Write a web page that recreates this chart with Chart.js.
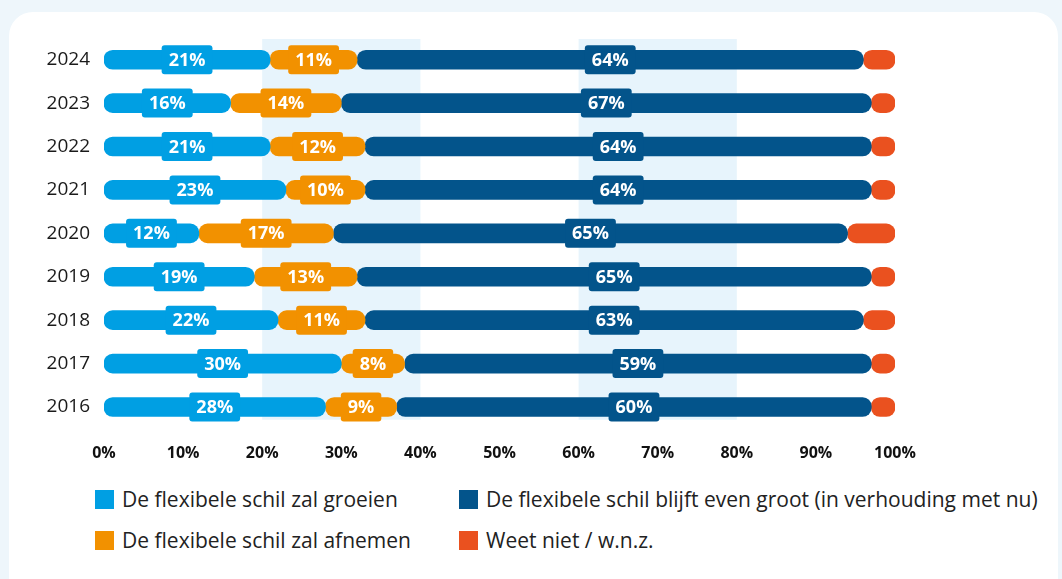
<!DOCTYPE html>
<html>
<head>
<meta charset="utf-8">
<script src="https://cdn.jsdelivr.net/npm/chart.js@4.4.0/dist/chart.umd.min.js"></script>
<style>
  html, body { margin: 0; padding: 0; }
  body { width: 1062px; height: 579px; background: #eef6fb; position: relative; overflow: hidden; font-family: "Open Sans", sans-serif; }
  .card { position: absolute; left: 9px; top: 12px; width: 1049px; height: 600px; background: #fff; border-radius: 24px; }
  #chartBox { position: absolute; left: 0; top: 0; width: 1062px; height: 470px; }
  .legend-item { position: absolute; display: flex; align-items: center; font-size: 21px; color: #222; white-space: nowrap; }
  .legend-item span.sw { display: inline-block; width: 19px; height: 19px; margin-right: 8px; }
</style>
</head>
<body>
<div class="card"></div>
<div id="chartBox"><canvas id="chart"></canvas></div>
<div id="legend"></div>
<script>
const years = ['2024', '2023', '2022', '2021', '2020', '2019', '2018', '2017', '2016'];
const groeien = [21, 16, 21, 23, 12, 19, 22, 30, 28];
const afnemen = [11, 14, 12, 10, 17, 13, 11, 8, 9];
const blijft = [64, 67, 64, 64, 65, 65, 63, 59, 60];
const weetNiet = [4, 3, 3, 3, 6, 3, 4, 3, 3];
const xTicks = [0, 10, 20, 30, 40, 50, 60, 70, 80, 90, 100];
const bands = [[20, 40], [60, 80]];

const seriesLabels = [
    'De flexibele schil zal groeien',
    'De flexibele schil zal afnemen',
    'De flexibele schil blijft even groot (in verhouding met nu)',
    'Weet niet / w.n.z.'
];
const colours = ['#009fe3', '#f29100', '#03548b', '#ea511f'];

// light background bands behind the bars
const bandPlugin = {
    id: 'bands',
    beforeDatasetsDraw(chart) {
        const ctx = chart.ctx;
        const x = chart.scales.x;
        const area = chart.chartArea;
        ctx.save();
        ctx.fillStyle = '#e7f4fc';
        bands.forEach(b => {
            const x1 = x.getPixelForValue(b[0]);
            const x2 = x.getPixelForValue(b[1]);
            ctx.fillRect(x1, area.top + 1, x2 - x1, area.bottom - area.top - 10);
        });
        ctx.restore();
    }
};

// value labels in little boxes on the first three series
const labelPlugin = {
    id: 'valueBoxes',
    afterDatasetsDraw(chart) {
        const ctx = chart.ctx;
        ctx.save();
        ctx.font = 'bold 18px "Open Sans"';
        ctx.textAlign = 'center';
        ctx.textBaseline = 'middle';
        for (let d = 0; d < 3; d++) {
            const meta = chart.getDatasetMeta(d);
            meta.data.forEach((bar, i) => {
                const text = chart.data.datasets[d].data[i] + '%';
                const cx = (bar.x + bar.base) / 2;
                const w = ctx.measureText(text).width + 14;
                const h = 29;
                ctx.fillStyle = colours[d];
                ctx.beginPath();
                ctx.roundRect(cx - w / 2, bar.y - h / 2, w, h, 3);
                ctx.fill();
                ctx.fillStyle = '#ffffff';
                ctx.fillText(text, cx, bar.y + 1);
            });
        }
        ctx.restore();
    }
};

const allSeries = [groeien, afnemen, blijft, weetNiet];
const radius = { topLeft: 9, topRight: 9, bottomLeft: 9, bottomRight: 9 };

new Chart(document.getElementById('chart'), {
    type: 'bar',
    data: {
        labels: years,
        datasets: allSeries.map((s, i) => ({
            label: seriesLabels[i],
            data: s,
            backgroundColor: colours[i],
            borderWidth: 0,
            borderRadius: radius,
            borderSkipped: false,
            barThickness: 19
        }))
    },
    options: {
        indexAxis: 'y',
        responsive: true,
        maintainAspectRatio: false,
        animation: false,
        layout: { padding: { top: 38, right: 167, bottom: 0, left: 0 } },
        plugins: {
            legend: { display: false },
            tooltip: { enabled: false }
        },
        scales: {
            x: {
                stacked: true,
                min: 0,
                max: 100,
                afterBuildTicks(scale) {
                    scale.ticks = xTicks.map(v => ({ value: v }));
                },
                afterFit(scale) { scale.height = 41.3; },
                grid: { display: false, drawTicks: false },
                border: { display: false },
                ticks: {
                    padding: 15,
                    color: '#111',
                    font: { family: 'Open Sans', size: 16, weight: 'bold' },
                    callback: v => v + '%'
                }
            },
            y: {
                stacked: true,
                afterFit(scale) { scale.width = 104; },
                grid: { display: false, drawTicks: false },
                border: { display: false },
                ticks: {
                    padding: 14,
                    color: '#1a1a1a',
                    font: { family: 'Open Sans', size: 19 }
                }
            }
        }
    },
    plugins: [bandPlugin, labelPlugin]
});

// legend in two columns
const legendPos = [
    { x: 95, y: 490 },
    { x: 95, y: 531 },
    { x: 459, y: 490 },
    { x: 459, y: 531 }
];
const legend = document.getElementById('legend');
seriesLabels.forEach((label, i) => {
    const item = document.createElement('div');
    item.className = 'legend-item';
    item.style.left = legendPos[i].x + 'px';
    item.style.top = (legendPos[i].y - 5) + 'px';
    item.innerHTML = '<span class="sw" style="background:' + colours[i] + '"></span>' + label;
    legend.appendChild(item);
});
</script>
</body>
</html>
